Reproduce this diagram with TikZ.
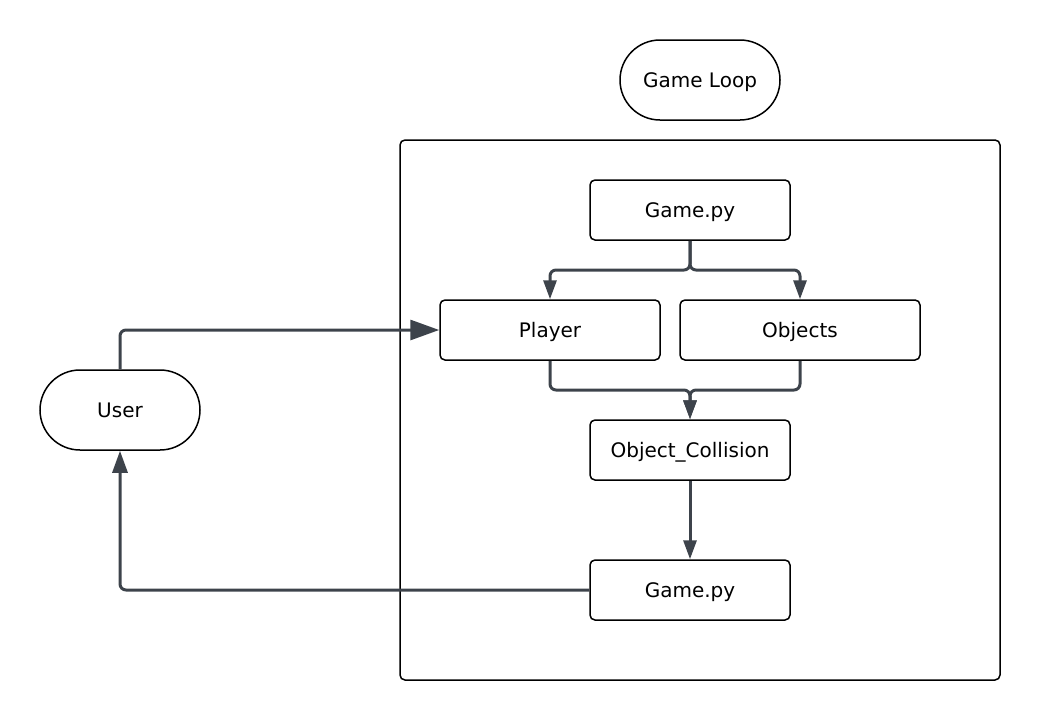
\documentclass[tikz,border=0pt]{standalone}
\usepackage{tikz}
\usepackage{xcolor}
\usepackage{fontspec}
\setmainfont{DejaVu Sans}
\usetikzlibrary{arrows.meta}

\begin{document}
\begin{tikzpicture}[x=1pt,y=-1pt,
  pill/.style={draw,line width=1.5pt,rounded corners=40pt,minimum width=160pt,minimum height=80pt,text height=14pt,text depth=0pt,font=\fontsize{20}{24}\selectfont},
  box/.style={draw,line width=1.5pt,rounded corners=5pt,minimum height=60pt,text height=14pt,text depth=0pt,font=\fontsize{20}{24}\selectfont},
  flow/.style={draw=flowgray,line width=3pt,rounded corners=6pt,-{Triangle[length=19pt,width=13pt]}}]
\definecolor{flowgray}{HTML}{3D434B}
\useasboundingbox (0,0) rectangle (1040,720);
\draw[line width=1.5pt,rounded corners=5pt] (400,140) rectangle (1000,680);
\node [pill] (loop) at (700,80) {Game Loop};
\node [pill] (user) at (120,410) {User};
\node [box,minimum width=200pt] (game1) at (690,210) {Game.py};
\node [box,minimum width=220pt] (player) at (550,330) {Player};
\node [box,minimum width=240pt] (objects) at (800,330) {Objects};
\node [box,minimum width=200pt] (coll) at (690,450) {Object\_Collision};
\node [box,minimum width=200pt] (game2) at (690,590) {Game.py};
\coordinate (split) at (690,270);
\coordinate (merge) at (690,390);
  \foreach \dest in {player,objects}
  {  \draw [flow] (game1.south) -- (split) -| (\dest.north);}
  \foreach \src in {player,objects}
  {  \draw [flow] (\src.south) |- (merge) -- (coll.north);}
\draw [flow] (coll.south) -- (game2.north);
\draw [flow,-{Triangle[length=22pt,width=15pt]}] (game2.west) -| (user.south);
\draw [flow,-{Triangle[length=29pt,width=20pt]}] (user.north) |- (player.west);
\end{tikzpicture}
\end{document}
